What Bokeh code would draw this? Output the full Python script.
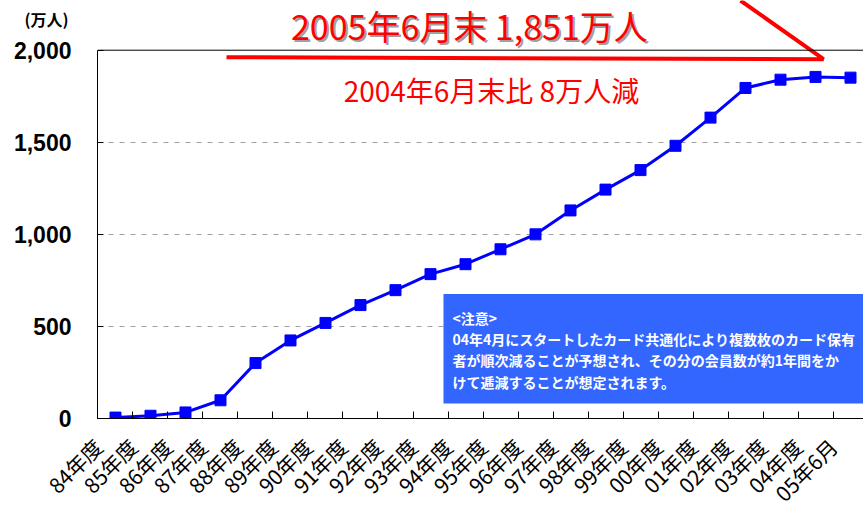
from math import pi
from bokeh.plotting import figure
from bokeh.models import (Range1d, FixedTicker, NumeralTickFormatter, Label,
                          BoxAnnotation, Span, ColumnDataSource, LinearAxis)
from bokeh.embed import file_html
from bokeh.resources import INLINE

# ---- data ----
periods = ["84年度", "85年度", "86年度", "87年度", "88年度", "89年度", "90年度",
           "91年度", "92年度", "93年度", "94年度", "95年度", "96年度", "97年度",
           "98年度", "99年度", "00年度", "01年度", "02年度", "03年度", "04年度",
           "05年6月"]
members = [5, 15, 33, 99, 301, 424, 519, 616, 697, 784, 838, 919, 1000, 1130,
           1243, 1349, 1481, 1634, 1795, 1840, 1855, 1851]
y_ticks = [0, 500, 1000, 1500, 2000]
grid_ticks = [500, 1000, 1500]
unit_label = "(万人)"
headline = "2005年6月末 1,851万人"
subline = "2004年6月末比 8万人減"
note_lines = ["<注意>",
              "04年4月にスタートしたカード共通化により複数枚のカード保有",
              "者が順次減ることが予想され、その分の会員数が約1年間をか",
              "けて逓減することが想定されます。"]

idx = list(range(len(periods)))
src = ColumnDataSource(dict(x=idx, y=members))
# category boundaries (tick marks sit between categories, labels hang from them)
bounds_ticks = [i - 0.5 for i in idx]

JP = "Noto Sans CJK JP"
UNIT_Y = 2168  # vertical placement of the unit caption (in y units)

p = figure(width=863, height=521, output_backend="svg", toolbar_location=None,
           x_range=Range1d(-0.514, 21.371), y_range=Range1d(0, 2270),
           min_border_left=97, min_border_right=0, min_border_top=0,
           min_border_bottom=101)
p.outline_line_color = None
p.background_fill_color = "white"
p.border_fill_color = "white"

# grid
p.xgrid.visible = False
p.ygrid.ticker = FixedTicker(ticks=grid_ticks)
p.ygrid.grid_line_color = "#A0A0A0"
p.ygrid.grid_line_dash = "5 6"
p.ygrid.grid_line_width = 1

# top border of plot area at 2000
p.add_layout(Span(location=2000, dimension="width", line_color="black",
                  line_width=1))

# y axis
ya = p.yaxis[0]
ya.ticker = FixedTicker(ticks=y_ticks)
ya.formatter = NumeralTickFormatter(format="0,0")
ya.bounds = (0, 2000)
ya.major_tick_in = 6
ya.major_tick_out = 0
ya.minor_tick_in = 0
ya.minor_tick_out = 0
ya.major_label_standoff = 26
ya.major_label_text_font = "Liberation Sans"
ya.major_label_text_font_style = "bold"
ya.major_label_text_font_size = "23px"
ya.major_label_text_color = "black"
ya.axis_line_color = "black"
ya.major_tick_line_color = "black"

# unit caption as a second (label-only) left axis
ua = LinearAxis(ticker=FixedTicker(ticks=[UNIT_Y], minor_ticks=[]),
                major_label_overrides={UNIT_Y: unit_label},
                axis_line_color=None, major_tick_line_color=None,
                minor_tick_line_color=None, major_tick_in=0, major_tick_out=0,
                minor_tick_in=0, minor_tick_out=0,
                major_label_standoff=-58,
                major_label_text_font=JP, major_label_text_font_style="bold",
                major_label_text_font_size="16px",
                major_label_text_color="black")
p.add_layout(ua, "left")

# x axis
xa = p.xaxis[0]
xa.ticker = FixedTicker(ticks=bounds_ticks, minor_ticks=[])
xa.major_label_overrides = {b: s for b, s in zip(bounds_ticks, periods)}
xa.major_tick_in = 7
xa.major_tick_out = 0
xa.major_tick_line_color = "black"
xa.minor_tick_in = 0
xa.minor_tick_out = 0
xa.major_label_orientation = pi / 4
xa.major_label_standoff = 24
xa.major_label_text_font = JP
xa.major_label_text_font_size = "21px"
xa.major_label_text_color = "black"
xa.axis_line_color = "black"

# note box
p.add_layout(BoxAnnotation(left=9.371, bottom=81, top=676,
                           fill_color="#3366FF", fill_alpha=1.0,
                           line_color=None))
for ly, t in zip([546, 432, 319, 200], note_lines):
    p.add_layout(Label(x=9.629, y=ly, text=t, text_color="white",
                       text_font=JP, text_font_style="bold",
                       text_font_size="14px", text_baseline="middle",
                       text_align="left"))

# data line
p.line("x", "y", source=src, line_color="#0000FF", line_width=3)
p.scatter("x", "y", source=src, marker="square", size=11,
          fill_color="#0000FF", line_color="#0000FF")

# callout
p.line([3.171, 20.23, 17.857], [1962, 1951, 2270], line_color="#FF0000",
       line_width=4)
p.add_layout(Label(x=10.11, y=2135, text=headline, text_color="#A0A0A0",
                   text_font=JP, text_font_size="34px", text_align="center",
                   text_baseline="middle", x_offset=2, y_offset=-2))
p.add_layout(Label(x=10.11, y=2135, text=headline, text_color="#FF0000",
                   text_font=JP, text_font_size="34px", text_align="center",
                   text_baseline="middle"))
p.add_layout(Label(x=10.74, y=1785, text=subline, text_color="#FF0000",
                   text_font=JP, text_font_size="28px", text_align="center",
                   text_baseline="middle"))

open("out.html", "w").write(file_html(p, INLINE))
